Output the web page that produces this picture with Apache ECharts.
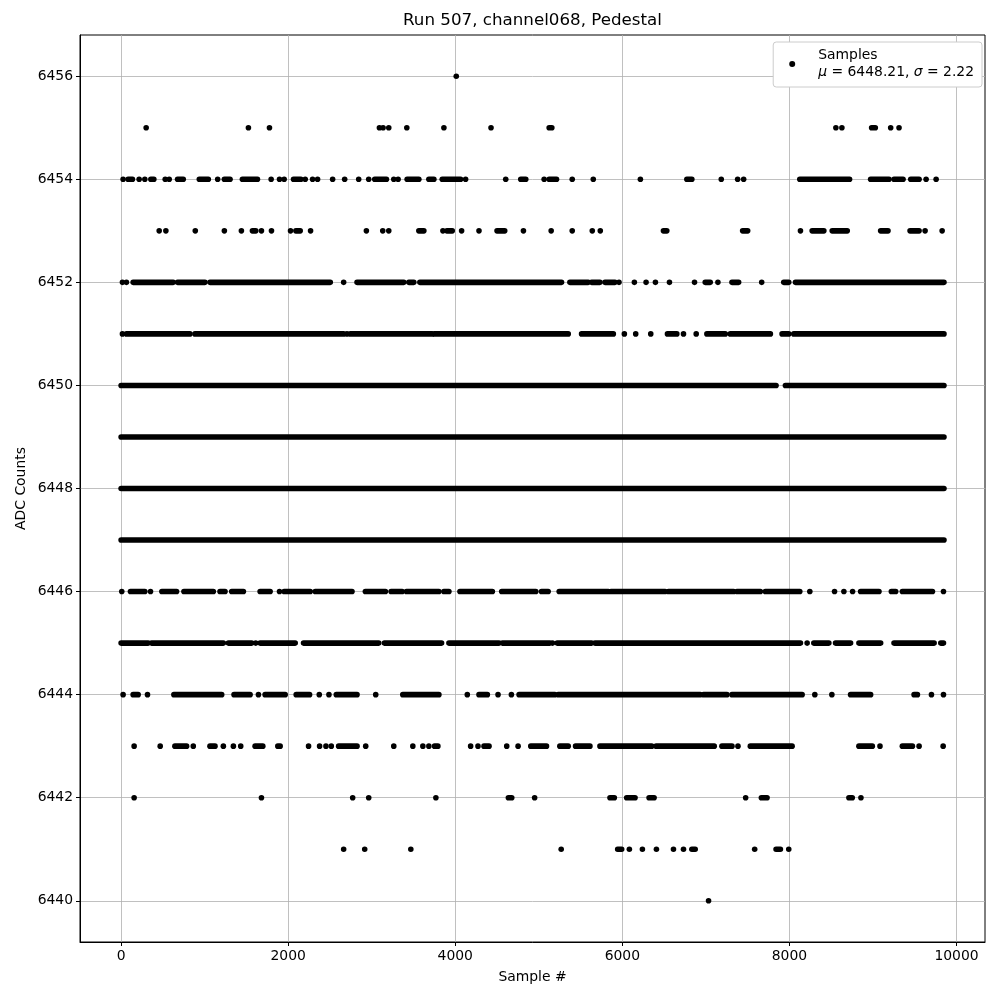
<!DOCTYPE html>
<html><head><meta charset="utf-8">
<script src="https://cdn.jsdelivr.net/npm/echarts@6/dist/echarts.min.js"></script>
<style>html,body{margin:0;padding:0;background:#fff}#c{width:1000px;height:1000px}</style>
</head><body><div id="c"></div><script>
// Axis settings and tick labels
const xMin = -492, xMax = 10341, yMin = 6439.2, yMax = 6456.8;
const xTicks = [0, 2000, 4000, 6000, 8000, 10000];
const yTicks = [6440, 6442, 6444, 6446, 6448, 6450, 6452, 6454, 6456];
const meanVal = 6448.21, sigmaVal = 2.22;

// Runs of samples per ADC level: [first sample #, last sample #] (single points have equal ends)
const lvl6456 = [[4012,4012]];
const lvl6455 = [[300,300],[1524,1524],[1776,1776],[3092,3092],[3136,3136],[3204,3204],[3420,3420],[3864,3864],[4428,4428],[5124,5156],[8556,8556],[8628,8628],[8984,9028],[9212,9212],[9312,9312]];
const lvl6454 = [[24,24],[84,136],[216,216],[284,284],[356,392],[528,528],[576,576],[676,744],[936,1044],[1156,1156],[1236,1304],[1452,1632],[1796,1796],[1896,1896],[1952,1952],[2064,2152],[2204,2204],[2292,2292],[2352,2352],[2532,2532],[2676,2676],[2844,2844],[2964,2964],[3036,3176],[3264,3264],[3316,3316],[3424,3564],[3684,3744],[3844,4064],[4124,4124],[4604,4604],[4784,4844],[5064,5064],[5124,5212],[5400,5400],[5652,5652],[6216,6216],[6772,6832],[7184,7184],[7380,7380],[7452,7452],[8124,8720],[8972,9192],[9252,9360],[9452,9552],[9636,9636],[9756,9756]];
const lvl6453 = [[456,456],[536,536],[888,888],[1236,1236],[1440,1440],[1572,1612],[1680,1680],[1800,1800],[2028,2028],[2092,2144],[2268,2268],[2936,2936],[3132,3132],[3204,3204],[3564,3624],[3852,3852],[3900,3964],[4076,4076],[4284,4284],[4500,4592],[4816,4816],[5148,5148],[5400,5400],[5640,5640],[5736,5736],[6492,6532],[7440,7500],[8132,8132],[8272,8412],[8512,8692],[9092,9180],[9444,9552],[9624,9624],[9828,9828]];
const lvl6452 = [[16,16],[64,64],[144,624],[676,1004],[1064,2504],[2664,2664],[2824,3384],[3444,3504],[3576,5272],[5372,5592],[5632,5732],[5792,5912],[5960,5960],[6144,6144],[6284,6284],[6396,6396],[6564,6564],[6864,6864],[6992,7052],[7144,7144],[7312,7392],[7668,7668],[7932,7992],[8072,9850]];
const lvl6451 = [[16,16],[64,824],[884,2664],[2704,2704],[2744,3724],[3752,5352],[5512,5892],[6024,6024],[6160,6160],[6340,6340],[6540,6652],[6732,6732],[6884,6884],[7012,7232],[7292,7772],[7912,7992],[8052,9850]];
const lvl6450 = [[0,7840],[7952,9850]];
const lvl6449 = [[0,9850]];
const lvl6448 = [[0,9850]];
const lvl6447 = [[0,9850]];
const lvl6446 = [[8,8],[112,284],[352,352],[488,664],[752,1104],[1184,1244],[1324,1464],[1664,1784],[1896,1896],[1952,2264],[2324,2764],[2924,3164],[3232,3364],[3416,3804],[3864,3924],[4056,4444],[4556,4964],[5032,5112],[5244,5832],[5864,6512],[6552,7332],[7372,7652],[7712,8124],[8244,8244],[8540,8540],[8652,8652],[8756,8756],[8852,9072],[9220,9272],[9352,9712],[9844,9844]];
const lvl6445 = [[0,324],[364,1224],[1284,1564],[1612,1612],[1664,2084],[2184,3084],[3152,3836],[3924,4524],[4564,5132],[5164,5164],[5220,5632],[5672,8132],[8212,8212],[8292,8472],[8552,8732],[8832,9092],[9252,9732],[9812,9844]];
const lvl6444 = [[24,24],[144,204],[316,316],[632,1204],[1352,1544],[1644,1644],[1724,1964],[2096,2256],[2372,2372],[2488,2488],[2576,2824],[3048,3048],[3372,3804],[4144,4144],[4284,4384],[4512,4512],[4672,4672],[4764,5192],[5232,6932],[6972,7252],[7312,8152],[8304,8304],[8508,8508],[8732,8972],[9492,9532],[9700,9700],[9844,9844]];
const lvl6443 = [[156,156],[468,468],[644,784],[864,864],[1064,1124],[1224,1224],[1344,1344],[1432,1432],[1604,1696],[1876,1904],[2244,2244],[2376,2376],[2452,2452],[2516,2516],[2604,2824],[2928,2928],[3264,3264],[3492,3492],[3612,3612],[3684,3684],[3752,3792],[4184,4184],[4272,4272],[4344,4404],[4616,4616],[4752,4752],[4904,5092],[5252,5352],[5440,5612],[5732,6352],[6404,7100],[7192,7312],[7384,7384],[7532,8032],[8832,8992],[9084,9084],[9352,9472],[9552,9552],[9840,9840]];
const lvl6442 = [[156,156],[1680,1680],[2772,2772],[2964,2964],[3768,3768],[4636,4676],[4950,4950],[5852,5904],[6052,6152],[6320,6380],[7476,7476],[7664,7732],[8712,8752],[8856,8856]];
const lvl6441 = [[2664,2664],[2916,2916],[3468,3468],[5268,5268],[5944,5992],[6084,6084],[6240,6240],[6408,6408],[6612,6612],[6732,6732],[6832,6872],[7584,7584],[7840,7892],[7992,7992]];
const lvl6440 = [[7032,7032]];

const levelRuns = [
  [6456, lvl6456],[6455, lvl6455],[6454, lvl6454],[6453, lvl6453],[6452, lvl6452],
  [6451, lvl6451],[6450, lvl6450],[6449, lvl6449],[6448, lvl6448],[6447, lvl6447],
  [6446, lvl6446],[6445, lvl6445],[6444, lvl6444],[6443, lvl6443],[6442, lvl6442],
  [6441, lvl6441],[6440, lvl6440]
];
const data = [];
levelRuns.forEach(([y, runs]) => runs.forEach(r => data.push([r[0], r[1], y])));

const FONT = '"DejaVu Sans", sans-serif';
const FS = 13.9;
const chart = echarts.init(document.getElementById('c'), null, {renderer: 'canvas'});
const R = 2.8;

chart.setOption({
  animation: false,
  backgroundColor: '#fff',
  grid: {left: 80, right: 15, top: 35, bottom: 58, show: true, borderColor: '#000', borderWidth: 1, containLabel: false},
  xAxis: {
    type: 'value', min: xMin, max: xMax, minInterval: 2000, maxInterval: 2000,
    axisLine: {show: true, onZero: false, lineStyle: {color: '#000', width: 1}},
    axisTick: {show: true, inside: false, length: 4, lineStyle: {color: '#000', width: 1}, customValues: xTicks},
    axisLabel: {customValues: xTicks, fontFamily: FONT, fontSize: FS, color: '#000', margin: 7, formatter: v => String(v)},
    splitLine: {show: true, lineStyle: {color: '#b0b0b0', width: 0.8}}
  },
  yAxis: {
    type: 'value', min: yMin, max: yMax, minInterval: 2, maxInterval: 2,
    axisLine: {show: true, onZero: false, lineStyle: {color: '#000', width: 1}},
    axisTick: {show: true, inside: false, length: 4, lineStyle: {color: '#000', width: 1}, customValues: yTicks},
    axisLabel: {customValues: yTicks, fontFamily: FONT, fontSize: FS, color: '#000', margin: 7, formatter: v => String(v)},
    splitLine: {show: true, lineStyle: {color: '#b0b0b0', width: 0.8}}
  },
  legend: {
    show: true, orient: 'vertical', right: 18, top: 42,
    data: [{name: 'Samples', icon: 'circle', itemStyle: {color: '#000'}}],
    itemWidth: 42, itemHeight: 6,
    padding: [5, 8, 6, 16],
    borderColor: '#cccccc', borderWidth: 1, borderRadius: 3,
    backgroundColor: '#fff',
    formatter: () => 'Samples\n{i|μ} = ' + meanVal.toFixed(2) + ', {i|σ} = ' + sigmaVal.toFixed(2),
    textStyle: {fontFamily: FONT, fontSize: FS, color: '#000', lineHeight: 17,
      rich: {i: {fontStyle: 'italic', fontFamily: FONT, fontSize: FS, color: '#000', lineHeight: 17}}}
  },
  graphic: [
    {type: 'text', x: 532.5, y: 21, style: {text: 'Run 507, channel068, Pedestal', font: '16.7px "DejaVu Sans"', fill: '#000', textAlign: 'center', textVerticalAlign: 'middle'}},
    {type: 'text', x: 532.5, y: 977, style: {text: 'Sample #', font: FS + 'px "DejaVu Sans"', fill: '#000', textAlign: 'center', textVerticalAlign: 'middle'}},
    {type: 'text', x: 21, y: 488.5, rotation: Math.PI / 2, style: {text: 'ADC Counts', font: FS + 'px "DejaVu Sans"', fill: '#000', textAlign: 'center', textVerticalAlign: 'middle'}}
  ],
  series: [{
    type: 'custom', name: 'Samples', coordinateSystem: 'cartesian2d',
    encode: {x: [0, 1], y: 2},
    itemStyle: {color: '#000'},
    silent: true, clip: true,
    data: data,
    renderItem: function (params, api) {
      const p0 = api.coord([api.value(0), api.value(2)]);
      const p1 = api.coord([api.value(1), api.value(2)]);
      return {type: 'rect', shape: {x: p0[0] - R, y: p0[1] - R, width: p1[0] - p0[0] + 2 * R, height: 2 * R, r: R}, style: {fill: '#000'}};
    }
  }]
});
</script></body></html>
